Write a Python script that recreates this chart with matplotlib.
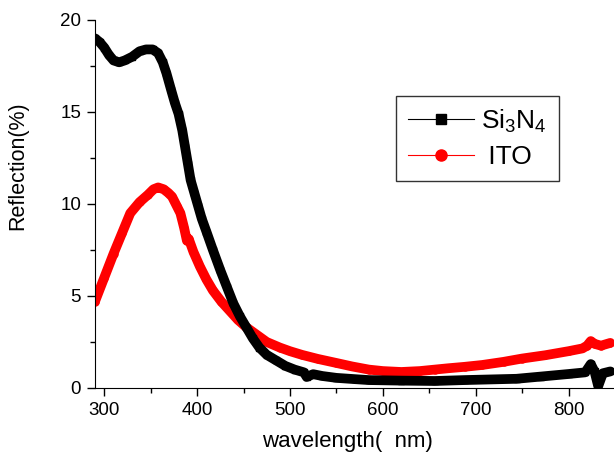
import matplotlib.pyplot as plt
from matplotlib.lines import Line2D
from matplotlib.ticker import MultipleLocator

plt.rcParams['font.family'] = ['Liberation Sans', 'DejaVu Sans']
plt.rcParams['mathtext.fontset'] = 'custom'
plt.rcParams['mathtext.rm'] = 'Liberation Sans'

# Si3N4 reflection
si3n4_wl = [290, 295, 300, 305, 310, 316, 322, 330, 338, 345, 352, 358, 363, 367,
            372, 376, 380, 384, 387, 390, 393, 397, 401, 405, 410, 417, 425, 432,
            439, 446, 453, 460, 467, 475, 485, 495, 505, 515, 518, 525, 535, 550,
            570, 585, 620, 656, 688, 720, 744, 770, 800, 818, 824, 828, 832, 837, 845]
si3n4_r = [19.0, 18.8, 18.5, 18.1, 17.8, 17.7, 17.8, 18.0, 18.3, 18.4, 18.4, 18.2,
           17.7, 17.1, 16.2, 15.5, 14.9, 14.0, 13.1, 12.2, 11.3, 10.6, 9.9, 9.2,
           8.5, 7.5, 6.4, 5.5, 4.6, 3.9, 3.3, 2.7, 2.2, 1.8, 1.5, 1.2, 1.0, 0.85,
           0.6, 0.75, 0.65, 0.55, 0.48, 0.43, 0.40, 0.38, 0.43, 0.47, 0.5, 0.62,
           0.76, 0.85, 1.3, 0.9, 0.1, 0.8, 0.9]

# ITO reflection
ito_wl = [290, 300, 310, 319, 328, 338, 347, 353, 358, 364, 369, 373, 378, 382,
          386, 389, 391, 396, 403, 410, 417, 426, 435, 444, 453, 464, 475, 489,
          500, 513, 530, 550, 567, 585, 600, 620, 640, 656, 670, 688, 707, 730,
          750, 775, 800, 815, 820, 824, 828, 835, 845]
ito_r = [4.7, 6.0, 7.3, 8.4, 9.5, 10.1, 10.5, 10.8, 10.9, 10.8, 10.6, 10.4, 9.9,
         9.5, 8.7, 8.0, 8.1, 7.4, 6.6, 5.9, 5.3, 4.7, 4.2, 3.7, 3.3, 2.9, 2.5,
         2.2, 2.0, 1.8, 1.58, 1.36, 1.17, 1.0, 0.92, 0.87, 0.92, 1.0, 1.07, 1.15,
         1.25, 1.42, 1.6, 1.78, 2.0, 2.15, 2.3, 2.55, 2.4, 2.3, 2.45]

fig = plt.figure(figsize=(6.14, 4.54), dpi=100)
ax = fig.add_axes([0.1547, 0.1454, 0.8453, 0.8106])

ax.plot(ito_wl, ito_r, color='red', lw=7, marker='o', ms=5, solid_capstyle='round',
        solid_joinstyle='round', zorder=2)
ax.plot(si3n4_wl, si3n4_r, color='black', lw=7, marker='s', ms=5, solid_capstyle='round',
        solid_joinstyle='round', zorder=3)

ax.set_xlim(290, 849)
ax.set_ylim(0, 20)
ax.xaxis.set_major_locator(MultipleLocator(100))
ax.xaxis.set_minor_locator(MultipleLocator(50))
ax.yaxis.set_major_locator(MultipleLocator(5))
ax.yaxis.set_minor_locator(MultipleLocator(2.5))
ax.tick_params(which='major', direction='out', length=5.5, width=1, labelsize=13.5, pad=4.5)
ax.tick_params(which='minor', direction='out', length=3.5, width=1)
ax.spines['top'].set_visible(False)
ax.spines['right'].set_visible(False)

ax.set_xlabel('wavelength(  nm)', fontsize=16)
ax.set_ylabel('Reflection(%)', fontsize=15.5)
ax.xaxis.set_label_coords(0.487, -0.117)
ax.yaxis.set_label_coords(-0.129, 0.603)

handles = [
    Line2D([], [], color='black', lw=0.8, marker='s', ms=7, mfc='black', mec='black'),
    Line2D([], [], color='red', lw=0.8, marker='o', ms=8, mfc='red', mec='red'),
]
leg = fig.legend(handles, [r'$\mathrm{Si_3N_4}$', ' ITO'], loc='upper left',
                 bbox_to_anchor=(0.645, 0.789), fontsize=19, frameon=True,
                 fancybox=False, edgecolor='black', handlelength=2.5,
                 borderpad=0.45, labelspacing=0.4, handletextpad=0.27,
                 borderaxespad=0)
leg.get_frame().set_linewidth(1)

fig.savefig('out.png', dpi=100)
